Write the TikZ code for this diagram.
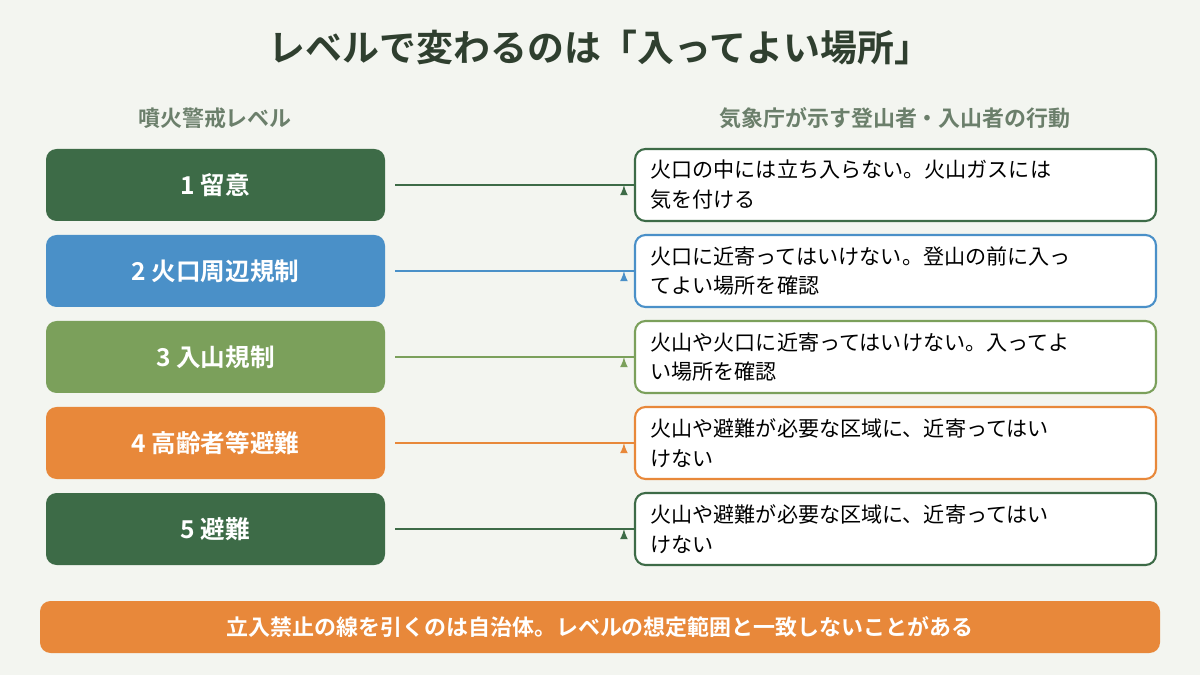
\documentclass[tikz,border=0pt]{standalone}
\usepackage{fontspec}
\setmainfont{Noto Sans CJK JP}[BoldFont={* Bold}]
\begin{document}
\definecolor{bg}{HTML}{F3F5F0}
\definecolor{dg}{HTML}{3D6B47}
\definecolor{bl}{HTML}{4A90C8}
\definecolor{lg}{HTML}{7BA05B}
\definecolor{og}{HTML}{E8883A}
\definecolor{tt}{HTML}{2F3F2F}
\definecolor{hd}{HTML}{6B7F6B}
\begin{tikzpicture}[x=0.02cm,y=-0.02cm,
 lvl/.style={rounded corners=6pt,minimum width=339*0.02cm,minimum height=72*0.02cm,text=white,font=\fontsize{14}{16}\selectfont\bfseries},
 act/.style={draw=#1,line width=1.2pt,fill=white,rounded corners=6pt,minimum width=521*0.02cm,minimum height=72*0.02cm,align=left,text width=490*0.02cm,font=\fontsize{12}{17}\selectfont,text=black},
 arr/.style={draw=#1,line width=1pt,-latex}]
\fill[bg] (0,0) rectangle (1200,675);
\node[text=tt,font=\fontsize{21}{24}\selectfont\bfseries] (title) at (600,48) {レベルで変わるのは「入ってよい場所」};
\node[text=hd,font=\fontsize{12.5}{14}\selectfont\bfseries] (h1) at (215,118) {噴火警戒レベル};
\node[text=hd,font=\fontsize{12.5}{14}\selectfont\bfseries] (h2) at (895,118) {気象庁が示す登山者・入山者の行動};
\foreach \i/\y/\c/\l/\t in {1/185/dg/{1 留意}/{火口の中には立ち入らない。火山ガスには\\気を付ける},
 2/271/bl/{2 火口周辺規制}/{火口に近寄ってはいけない。登山の前に入っ\\てよい場所を確認},
 3/357/lg/{3 入山規制}/{火山や火口に近寄ってはいけない。入ってよ\\い場所を確認},
 4/443/og/{4 高齢者等避難}/{火山や避難が必要な区域に、近寄ってはい\\けない},
 5/529/dg/{5 避難}/{火山や避難が必要な区域に、近寄ってはい\\けない}}{
 \node[lvl,fill=\c] (l\i) at (215.5,\y) {\l};
 \node[act=\c] (a\i) at (895.5,\y) {\t};
 \draw[arr=\c] (l\i.east)++(10,0) coordinate (s\i) -- (a\i.west)++(-10,0) coordinate (e\i);
}
\node[fill=og,rounded corners=6pt,minimum width=1120*0.02cm,minimum height=52*0.02cm,text=white,font=\fontsize{12.5}{14}\selectfont\bfseries] (bar) at (600,627) {立入禁止の線を引くのは自治体。レベルの想定範囲と一致しないことがある};
\end{tikzpicture}
\end{document}
